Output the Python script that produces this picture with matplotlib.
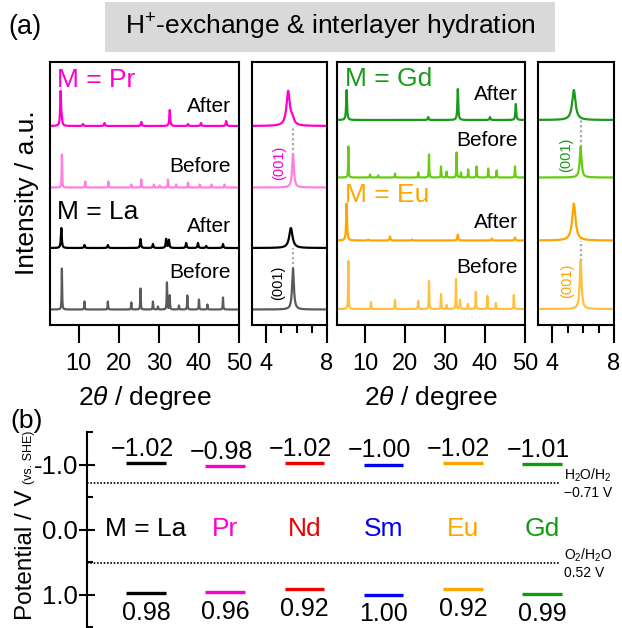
"""
XRD patterns before / after H+-exchange (a) and band-edge potentials (b)
"""
import numpy as np
import matplotlib.pyplot as plt
from matplotlib.patches import Rectangle

plt.rcParams["font.family"] = ["Liberation Sans", "DejaVu Sans"]
plt.rcParams["mathtext.fontset"] = "custom"
plt.rcParams["mathtext.rm"] = "Liberation Sans"
plt.rcParams["mathtext.it"] = "Liberation Sans:italic"

# ──────────────────────────────────────────────────────────────────────────────
# DATA  (peak positions in 2theta / deg, heights in a.u.)
# ------------------------------------------------------------------------------
pr_after_pos  = [5.45, 5.72, 11.0, 16.4, 25.6, 32.7, 37.25, 40.5, 46.8]
pr_after_hgt  = [34, 6, 2, 3, 4, 16, 2, 3, 5]
pr_before_pos = [5.77, 11.6, 17.4, 23.1, 25.6, 28.75, 30.2, 32.25, 34.3, 37.25, 40.2, 43.1, 46.4]
pr_before_hgt = [33, 6, 6, 3, 8, 3, 2, 8, 3, 5, 3, 3, 3]
la_after_pos  = [5.63, 11.4, 17.25, 25.4, 28.5, 31.8, 32.5, 36.8, 39.75, 41.8, 46.0]
la_after_hgt  = [20, 3, 3, 9, 4, 9, 8, 5, 5, 2, 4]
la_before_pos = [5.77, 11.4, 17.25, 23.1, 25.4, 28.5, 29.75, 32.0, 32.7, 35.0, 37.1, 40.0, 42.1, 46.0]
la_before_hgt = [41, 8, 8, 7, 21, 8, 3, 27, 14, 4, 14, 10, 5, 12]

gd_after_pos  = [5.40, 25.8, 33.2, 41.25, 47.7]
gd_after_hgt  = [30, 3, 31, 3, 16]
gd_before_pos = [5.84, 11.25, 13.3, 17.5, 23.3, 26.0, 29.0, 30.4, 32.9, 34.0, 35.8, 37.9, 40.8, 42.9, 47.5]
gd_before_hgt = [31, 3, 2, 4, 5, 23, 11, 6, 25, 5, 8, 11, 9, 7, 11]
eu_after_pos  = [5.40, 10.8, 16.25, 21.7, 33.2, 41.7, 47.5]
eu_after_hgt  = [37, 1, 4, 1, 6, 2, 3]
eu_before_pos = [5.84, 11.5, 17.5, 23.3, 26.0, 29.0, 30.4, 32.75, 33.75, 35.7, 37.7, 40.6, 42.7, 47.2]
eu_before_hgt = [48, 7, 9, 8, 28, 15, 4, 30, 9, 5, 17, 13, 6, 14]

# vertical stacking offsets of each pattern
OFFS_LEFT  = dict(pr_after=199, pr_before=137.5, la_after=77, la_before=15.5)
OFFS_RIGHT = dict(gd_after=205, gd_before=147.5, eu_after=84.5, eu_before=16)

# panel (b)
elements = ["La", "Pr", "Nd", "Sm", "Eu", "Gd"]
cb_pot   = [-1.02, -0.98, -1.02, -1.00, -1.02, -1.01]
vb_pot   = [0.98, 0.96, 0.92, 1.00, 0.92, 0.99]
h2_pot, o2_pot = -0.71, 0.52
pot_ticks = [-1.0, 0.0, 1.0]
pot_tick_labels = ["-1.0", "0.0", "1.0"]

# colours
C = dict(pr_after="#ff00cc", pr_before="#ff80e0", la_after="#000000", la_before="#5a5a5a",
         gd_after="#1a9a1a", gd_before="#66cc11", eu_after="#ffa500", eu_before="#ffc040")
el_colors = ["#000000", "#ff00cc", "#ee0000", "#0000ee", "#ffa500", "#119911"]

W, H = 622, 628
TT = np.linspace(2.5, 50.5, 9601)


def profile(pos, hgt, hw):
    y = np.zeros_like(TT)
    for p, h in zip(pos, hgt):
        y += h * hw**2 / ((TT - p)**2 + hw**2)
    return y


def box(l, t, w, h):          # pixel box -> figure fraction
    return [l / W, 1 - (t + h) / H, w / W, h / H]


fig = plt.figure(figsize=(6.22, 6.28), dpi=100)

# ──────────────────────────────────────────────────────────────────────────────
# (a) XRD
# ------------------------------------------------------------------------------
ax1 = fig.add_axes(box(50, 62, 189, 263))
ax2 = fig.add_axes(box(252, 62, 75, 263))
ax3 = fig.add_axes(box(337, 62, 188, 263))
ax4 = fig.add_axes(box(538, 62, 76, 263))

left_sets = [("pr_after", pr_after_pos, pr_after_hgt, 0.13),
             ("pr_before", pr_before_pos, pr_before_hgt, 0.07),
             ("la_after", la_after_pos, la_after_hgt, 0.13),
             ("la_before", la_before_pos, la_before_hgt, 0.07)]
right_sets = [("gd_after", gd_after_pos, gd_after_hgt, 0.13),
              ("gd_before", gd_before_pos, gd_before_hgt, 0.07),
              ("eu_after", eu_after_pos, eu_after_hgt, 0.13),
              ("eu_before", eu_before_pos, eu_before_hgt, 0.07)]

for (wide, narrow, sets, offs) in [(ax1, ax2, left_sets, OFFS_LEFT), (ax3, ax4, right_sets, OFFS_RIGHT)]:
    for key, pos, hgt, hw in sets:
        y = profile(pos, hgt, hw) + offs[key]
        wide.plot(TT, y, color=C[key], lw=1.6)
        narrow.plot(TT, y, color=C[key], lw=1.6)

# dotted guide at the pristine (001) position
for ax, key_b, key_a, pos, hgt in [
        (ax2, "pr_before", "pr_after", pr_before_pos, pr_before_hgt),
        (ax2, "la_before", "la_after", la_before_pos, la_before_hgt),
        (ax4, "gd_before", "gd_after", gd_before_pos, gd_before_hgt),
        (ax4, "eu_before", "eu_after", eu_before_pos, eu_before_hgt)]:
    offs = OFFS_LEFT if ax is ax2 else OFFS_RIGHT
    ax.plot([pos[0], pos[0]], [offs[key_b] + hgt[0], offs[key_a]],
            ls=(0, (1, 1.2)), color="#aaaaaa", lw=1.6, zorder=0)

for ax in (ax1, ax3):
    ax.set_xlim(2.8 if ax is ax1 else 3.0, 50)
    ax.set_xticks([10, 20, 30, 40, 50])
for ax in (ax2, ax4):
    ax.set_xlim(3.08, 8.0)
    ax.set_xticks([4, 8])
    ax.set_xticks([5, 6, 7], minor=True)
for ax in (ax1, ax2, ax3, ax4):
    ax.set_ylim(0, 263)
    ax.set_yticks([])
    ax.tick_params(axis="x", which="major", direction="out", length=13, width=1.5,
                   labelsize=17, pad=7)
    ax.tick_params(axis="x", which="minor", direction="out", length=6, width=1.5)
    for s in ax.spines.values():
        s.set_linewidth(1.5)

txt = dict(fontsize=15, ha="right", va="center")
ax1.text(4.5, 245, "M = Pr", color=C["pr_after"], fontsize=19, va="center")
ax1.text(48, 219, "After", **txt)
ax1.text(48, 159, "Before", **txt)
ax1.text(4.5, 113, "M = La", color="black", fontsize=19, va="center")
ax1.text(48, 98, "After", **txt)
ax1.text(48, 53, "Before", **txt)

ax3.text(5.0, 246, "M = Gd", color=C["gd_after"], fontsize=19, va="center")
ax3.text(48.25, 231, "After", **txt)
ax3.text(48.25, 185, "Before", **txt)
ax3.text(5.0, 130, "M = Eu", color=C["eu_after"], fontsize=19, va="center")
ax3.text(48.25, 102, "After", **txt)
ax3.text(48.25, 58, "Before", **txt)

lab = dict(fontsize=10.5, rotation=90, ha="center", va="center")
ax2.text(4.85, 162, "(001)", color=C["pr_after"], **lab)
ax2.text(4.80, 42, "(001)", color="black", **lab)
ax4.text(4.92, 170, "(001)", color=C["gd_after"], **lab)
ax4.text(4.97, 44, "(001)", color=C["eu_after"], **lab)

fig.text(144.5 / W, 1 - 398 / H, r"2$\it{\theta}$ / degree", fontsize=19, ha="center", va="center")
fig.text(431 / W, 1 - 398 / H, r"2$\it{\theta}$ / degree", fontsize=19, ha="center", va="center")
fig.text(27 / W, 1 - 193 / H, "Intensity / a.u.", fontsize=19, rotation=90, ha="center", va="center")

# title banner
fig.patches.append(Rectangle((105 / W, 1 - 52 / H), 450 / W, 50 / H, transform=fig.transFigure,
                             facecolor="#d9d9d9", edgecolor="none", zorder=0))
fig.text(330 / W, 1 - 27 / H, r"H$^{+}$-exchange & interlayer hydration", fontsize=19,
         ha="center", va="center")
fig.text(25 / W, 1 - 27 / H, "(a)", fontsize=19.5, ha="center", va="center")

# ──────────────────────────────────────────────────────────────────────────────
# (b) band positions
# ------------------------------------------------------------------------------
ax5 = fig.add_axes(box(87, 432, 478, 195))
xs = np.arange(len(elements))
ax5.set_xlim(-0.745, 5.29)
ax5.set_ylim(1.5, -1.5)
for s in ("top", "right", "bottom"):
    ax5.spines[s].set_visible(False)
ax5.spines["left"].set_linewidth(1.5)
ax5.set_xticks([])
ax5.set_yticks(pot_ticks)
ax5.set_yticklabels(pot_tick_labels)
ax5.set_yticks([-1.5, -0.5, 0.5, 1.5], minor=True)
ax5.tick_params(axis="y", which="major", direction="inout", length=11, width=1.5,
                labelsize=18.5, pad=1)
ax5.tick_params(axis="y", which="minor", direction="in", length=4, width=1.5)

ax5.hlines([h2_pot, o2_pot], -0.745, 5.23, colors="black", linestyles=(0, (1, 1)), lw=1.2)
for x, el, cb, vb, col in zip(xs, elements, cb_pot, vb_pot, el_colors):
    ax5.hlines([cb, vb], x - 0.25, x + 0.25, colors=col, lw=2.4)
    ax5.text(x - 0.05, cb - 0.11, f"\u2212{abs(cb):.2f}", fontsize=18, ha="center", va="baseline")
    ax5.text(x, vb + 0.12, f"{vb:.2f}", fontsize=18, ha="center", va="top")
    name = "M = " + el if x == 0 else el
    ax5.text(x, 0.0, name, color=col, fontsize=19, ha="center", va="center")

wl = dict(fontsize=10, ha="left", va="center", clip_on=False)
ax5.text(5.28, h2_pot - 0.13, r"H$_2$O/H$_2$", **wl)
ax5.text(5.28, h2_pot + 0.15, "\u22120.71 V", **wl)
ax5.text(5.28, o2_pot - 0.13, r"O$_2$/H$_2$O", **wl)
ax5.text(5.28, o2_pot + 0.15, "0.52 V", **wl)

fig.text(32 / W, 1 - 555 / H, "Potential / V", fontsize=17.5, rotation=90,
         rotation_mode="anchor", ha="center", va="baseline")
fig.text(32 / W, 1 - 457 / H, "(vs. SHE)", fontsize=9, rotation=90,
         rotation_mode="anchor", ha="center", va="baseline")
fig.text(27 / W, 1 - 421 / H, "(b)", fontsize=19, ha="center", va="center")

fig.savefig("out.png", dpi=100)
